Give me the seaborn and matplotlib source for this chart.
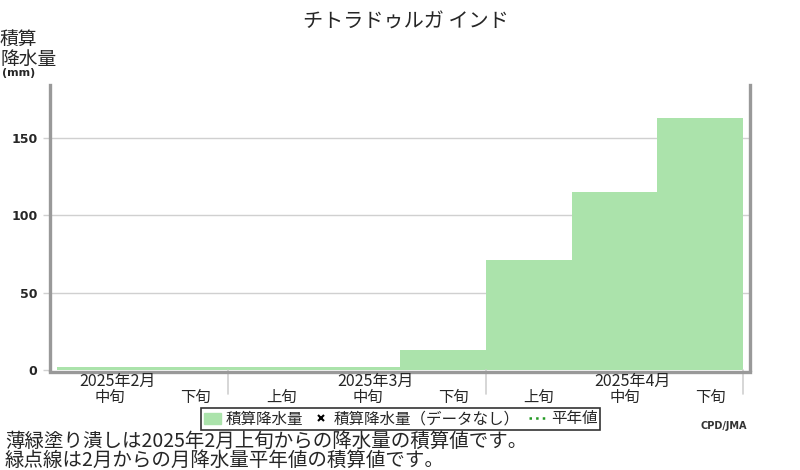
import numpy as np
import matplotlib
matplotlib.use('Agg')
import matplotlib.pyplot as plt
import matplotlib.patches as mpatches
from matplotlib.lines import Line2D
import pandas as pd
import seaborn as sns

# データ
title = 'チトラドゥルガ インド'
dekads = ['中旬', '下旬', '上旬', '中旬', '下旬', '上旬', '中旬', '下旬']
months = ['2025年2月', '2025年3月', '2025年4月']
month_pos = [0, 3, 6]          # 月ラベルを置く旬の位置
month_bounds = [1.5, 4.5, 7.5]  # 月の区切り
precip = [1.8, 1.8, 1.8, 1.8, 13, 71, 115, 163]
yticks = [0, 50, 100, 150]
note1 = '薄緑塗り潰しは2025年2月上旬からの降水量の積算値です。'
note2 = '緑点線は2月からの月降水量平年値の積算値です。'

df = pd.DataFrame({'dekad': np.arange(len(precip)), 'precip': precip})

sns.set_theme(style='white')
plt.rcParams['font.family'] = ['Noto Sans CJK JP', 'DejaVu Sans']

fill = '#abe3ab'
spine = '#999999'
grid = '#d0d0d0'

fig = plt.figure(figsize=(8, 4.7), dpi=100)
ax = fig.add_axes([50 / 800, 1 - 370 / 470, 700 / 800, 285 / 470])

sns.barplot(data=df, x='dekad', y='precip', color=fill, width=1.0,
            saturation=1, linewidth=0, edgecolor='none', ax=ax, zorder=2)

ax.set_xlim(-0.58, 7.58)
ax.set_ylim(0, 184)

# 目盛り
ax.set_yticks(yticks)
ax.set_yticklabels([str(v) for v in yticks], fontsize=9, fontweight='bold',
                   family='DejaVu Sans')
ax.tick_params(axis='y', length=5, width=1, color=grid, pad=4, left=True)
for v in yticks[1:]:
    ax.axhline(v, color=grid, lw=1, zorder=1)

ax.set_xticks(np.arange(len(dekads)) + 0.12)
ax.set_xticklabels(dekads, fontsize=11.5)
ax.tick_params(axis='x', length=0, pad=12.5)
ax.set_xlabel('')
ax.set_ylabel('')

for m, p in zip(months, month_pos):
    ax.annotate(m, xy=(p + 0.21, 0), xycoords=('data', 'axes fraction'),
                xytext=(0, -8.3), textcoords='offset points',
                ha='center', va='center', fontsize=11.5)

for b in month_bounds:
    ax.plot([b, b], [0, -0.085], transform=ax.get_xaxis_transform(),
            color=grid, lw=1.2, clip_on=False)

for s in ['left', 'right', 'bottom']:
    ax.spines[s].set_color(spine)
    ax.spines[s].set_linewidth(2.4)
ax.spines['bottom'].set_position(('outward', 1.5))
ax.spines['top'].set_visible(False)

# タイトル・軸ラベル
fig.text(406 / 800, 1 - 22 / 470, title, ha='center', va='center', fontsize=14.5)
fig.text(0, 1 - 39 / 470, '積算', ha='left', va='center', fontsize=13.5)
fig.text(0, 1 - 59 / 470, '降水量', ha='left', va='center', fontsize=13.5)
fig.text(2 / 800, 1 - 73 / 470, '(mm)', ha='left', va='center', fontsize=8,
         fontweight='bold', family='DejaVu Sans')

# 凡例
handles = [
    mpatches.Patch(color=fill, label='積算降水量'),
    Line2D([], [], marker='x', color='black', linestyle='none', markersize=4,
           markeredgewidth=1.5, label='積算降水量（データなし）'),
    Line2D([], [], color='#229922', linestyle=':', lw=1.8, label='平年値'),
]
leg = fig.legend(handles=handles, loc='center', bbox_to_anchor=(400.5 / 800, 1 - 419 / 470),
                 ncol=3, fontsize=11.2, frameon=True, fancybox=False, handlelength=1.1,
                 handletextpad=0.3, columnspacing=0.6, borderpad=0.15, borderaxespad=0)
leg.get_frame().set_edgecolor('black')
leg.get_frame().set_linewidth(1.2)

fig.text(724 / 800, 1 - 426 / 470, 'CPD/JMA', ha='center', va='center', fontsize=7,
         fontweight='bold', color='#333333', family='DejaVu Sans')

fig.text(5 / 800, 1 - 441 / 470, note1, ha='left', va='center', fontsize=14)
fig.text(5 / 800, 1 - 460 / 470, note2, ha='left', va='center', fontsize=14)

plt.savefig('out.png', dpi=100)
